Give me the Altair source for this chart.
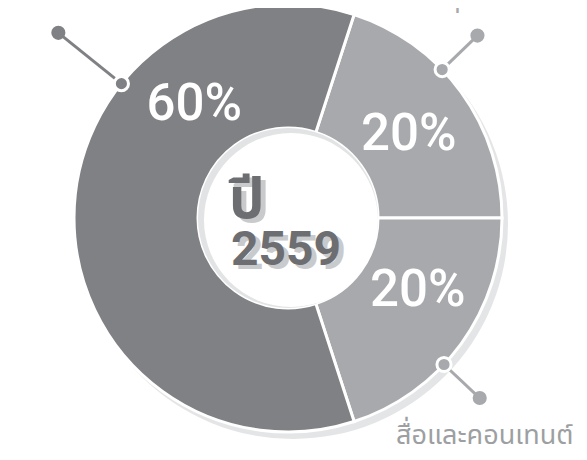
import math
import altair as alt
import pandas as pd

# ---- data ----
categories = ["บริการต่างๆ", "สื่อและคอนเทนต์", "ร้านและเว็บสินค้า"]
shares = [20, 20, 60]
share_labels = ["20%", "20%", "60%"]
center_lines = ["ปี", "2559"]

# ---- style / layout ----
W, H = 571, 444
CX, CY = 280, 210
R_OUT, R_IN = 214, 90
OFFSET = math.radians(18)
DARK, LIGHT = "#808184", "#a7a9ac"
slice_colors = [LIGHT, LIGHT, DARK]
label_frac = [0.51, 0.40, 0.735]
label_radius = 148
leader_frac = [0.39, 0.60, 0.68]
leader_outer = [263, 263, 295]
name_offset = [(-81, -28), (5, 46), (32, -25)]
name_colors = [LIGHT, "#9d9fa2", DARK]
THAI = "Noto Sans Thai, Noto Sans, sans-serif"
NUM = "Roboto, sans-serif"

total = sum(shares)
cum = [sum(shares[:i]) for i in range(len(shares))]

df = pd.DataFrame({
    "category": categories,
    "share": shares,
    "idx": list(range(len(shares))),
    "label": share_labels,
    "label_pos": [cum[i] + label_frac[i] * shares[i] for i in range(len(shares))],
})

ang = [OFFSET + 2 * math.pi * (cum[i] + leader_frac[i] * shares[i]) / total for i in range(len(shares))]
lead = pd.DataFrame({
    "category": categories,
    "x1": [R_OUT * math.sin(a) for a in ang],
    "y1": [-R_OUT * math.cos(a) for a in ang],
    "x2": [leader_outer[i] * math.sin(a) for i, a in enumerate(ang)],
    "y2": [-leader_outer[i] * math.cos(a) for i, a in enumerate(ang)],
})
lead["nx"] = lead["x2"] + [o[0] for o in name_offset]
lead["ny"] = lead["y2"] + [o[1] for o in name_offset]
lead["ncolor"] = name_colors

xs = alt.Scale(domain=[-CX, W - CX], range=[0, W])
ys = alt.Scale(domain=[-CY, H - CY], range=[0, H])
theta_scale = alt.Scale(domain=[0, total], range=[OFFSET, OFFSET + 2 * math.pi])
color_scale = alt.Scale(domain=categories, range=slice_colors)

one = pd.DataFrame({"k": [0]})

shadow = alt.Chart(one).mark_arc(outerRadius=R_OUT + 1, innerRadius=0, color="#e4e5e6").encode(
    x=alt.value(CX + 5), y=alt.value(CY + 6)
)

pie = alt.Chart(df).mark_arc(innerRadius=R_IN, outerRadius=R_OUT, stroke="white", strokeWidth=3).encode(
    theta=alt.Theta("share:Q", stack=True, scale=theta_scale),
    order=alt.Order("idx:Q"),
    color=alt.Color("category:N", scale=color_scale, legend=None),
    x=alt.value(CX), y=alt.value(CY),
)

inner_gray = alt.Chart(one).mark_arc(outerRadius=R_IN, innerRadius=0, color="#e2e3e4").encode(
    x=alt.value(CX), y=alt.value(CY)
)
inner_white = alt.Chart(one).mark_arc(outerRadius=R_IN - 3, innerRadius=0, color="white").encode(
    x=alt.value(CX + 3), y=alt.value(CY + 2)
)

pct = alt.Chart(df).mark_text(
    radius=label_radius, font="Roboto", fontSize=51, fontWeight=500, color="white",
    align="center", baseline="middle", dy=2
).encode(
    theta=alt.Theta("label_pos:Q", stack=False, scale=theta_scale),
    text="label:N",
    x=alt.value(CX), y=alt.value(CY),
)

rules = alt.Chart(lead).mark_rule(strokeWidth=3).encode(
    x=alt.X("x1:Q", scale=xs, axis=None), y=alt.Y("y1:Q", scale=ys, axis=None),
    x2="x2:Q", y2="y2:Q",
    color=alt.Color("category:N", scale=color_scale, legend=None),
)
dots = alt.Chart(lead).mark_circle(size=200, opacity=1).encode(
    x=alt.X("x2:Q", scale=xs, axis=None), y=alt.Y("y2:Q", scale=ys, axis=None),
    color=alt.Color("category:N", scale=color_scale, legend=None),
)
edge = alt.Chart(lead).mark_circle(size=200, opacity=1, stroke="white", strokeWidth=3).encode(
    x=alt.X("x1:Q", scale=xs, axis=None), y=alt.Y("y1:Q", scale=ys, axis=None),
    color=alt.Color("category:N", scale=color_scale, legend=None),
)
names = alt.Chart(lead).mark_text(font=THAI, fontSize=27, align="center", baseline="alphabetic").encode(
    x=alt.X("nx:Q", scale=xs, axis=None), y=alt.Y("ny:Q", scale=ys, axis=None),
    text="category:N",
    color=alt.Color("ncolor:N", scale=None),
)

cdf = pd.DataFrame({"t": center_lines})
def center_text(dx, dy, col):
    l1 = alt.Chart(cdf.iloc[[0]]).mark_text(
        font=THAI, fontSize=56, fontWeight="bold", align="left", baseline="alphabetic", color=col
    ).encode(text="t:N", x=alt.value(221 + dx), y=alt.value(210 + dy))
    l2 = alt.Chart(cdf.iloc[[1]]).mark_text(
        font=NUM, fontSize=48, fontWeight="bold", align="left", baseline="alphabetic", color=col
    ).encode(text="t:N", x=alt.value(223 + dx), y=alt.value(257 + dy))
    return l1 + l2

chart = alt.layer(
    shadow, pie, inner_gray, inner_white, pct, rules, dots, edge, names,
    center_text(5, 4, "#c9cacc"), center_text(0, 0, "#6d6e71"),
).properties(
    width=W, height=H, autosize=alt.AutoSizeParams(type="none"), padding=0
).configure_view(stroke=None)

chart.save("out.html", embed_options={"renderer": "svg", "actions": False})
